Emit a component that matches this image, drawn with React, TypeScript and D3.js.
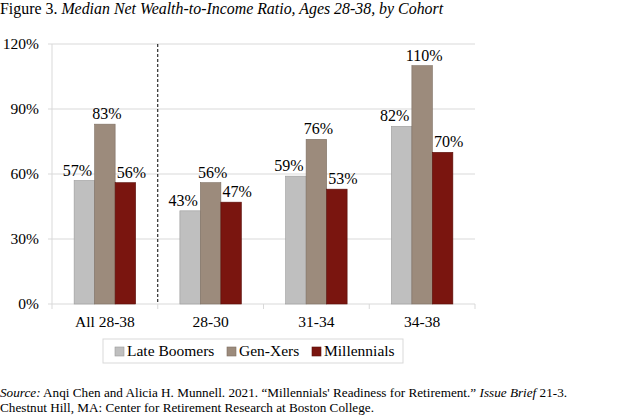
import * as d3 from 'd3';

const categories = ['All 28-38', '28-30', '31-34', '34-38'];
const seriesNames = ['Late Boomers', 'Gen-Xers', 'Millennials'];
const lateBoomers = [57, 43, 59, 82];
const genXers = [83, 56, 76, 110];
const millennials = [56, 47, 53, 70];
const yTicks = [0, 30, 60, 90, 120];

const colors = ['#BFBFBF', '#9C8B7C', '#7A150F'];
const strokes = ['#9a9a9a', '#7d6e61', '#5a0e09'];
// small horizontal nudges so the value labels don't collide
const labelNudge = [-7, 2, 6];

const W = 620;
const H = 418;
const margin = { top: 44, right: 145, bottom: 114, left: 52 };
const innerW = W - margin.left - margin.right;
const innerH = H - margin.top - margin.bottom;
const serif = "'Liberation Serif', Tinos, 'Times New Roman', Times, 'DejaVu Serif', serif";

export default function App() {
  const values = [lateBoomers, genXers, millennials];

  const x = d3.scaleBand().domain(categories).range([0, innerW]).padding(0);
  const xs = d3
    .scaleBand()
    .domain(seriesNames)
    .range([0, x.bandwidth()])
    .paddingInner(0)
    .paddingOuter(1.08);
  const y = d3.scaleLinear().domain([0, 120]).range([innerH, 0]);

  const legendItems = [
    { name: seriesNames[0], dx: 12 },
    { name: seriesNames[1], dx: 124 },
    { name: seriesNames[2], dx: 209 },
  ];

  return (
    <svg
      width={W}
      height={H}
      style={{ position: 'absolute', left: 0, top: 0, background: '#fff', fontFamily: serif }}
    >
      <text x={0} y={14} fontSize={15.9} fill="#000">
        Figure 3.{' '}
        <tspan fontStyle="italic">Median Net Wealth-to-Income Ratio, Ages 28-38, by Cohort</tspan>
      </text>

      <g transform={`translate(${margin.left},${margin.top})`}>
        {/* gridlines + y labels */}
        {yTicks.map((t) => (
          <g key={t}>
            <line x1={-4} x2={innerW} y1={y(t)} y2={y(t)} stroke="#d9d9d9" strokeWidth={1} />
            <text x={-13} y={y(t)} dy="0.35em" textAnchor="end" fontSize={15.5} fill="#000">
              {`${t}%`}
            </text>
          </g>
        ))}
        <line x1={0} x2={0} y1={0} y2={innerH} stroke="#d9d9d9" />

        {/* category ticks */}
        {categories.map((c) => (
          <line
            key={`tk-${c}`}
            x1={(x(c) ?? 0) + x.bandwidth()}
            x2={(x(c) ?? 0) + x.bandwidth()}
            y1={innerH}
            y2={innerH + 5}
            stroke="#d9d9d9"
          />
        ))}
        <line x1={0} x2={0} y1={innerH} y2={innerH + 5} stroke="#d9d9d9" />

        {/* separator after the pooled group */}
        <line
          x1={x(categories[1]) ?? 0}
          x2={x(categories[1]) ?? 0}
          y1={0}
          y2={innerH}
          stroke="#000"
          strokeWidth={1}
          strokeDasharray="3 2"
        />

        {/* bars */}
        {categories.map((c, ci) => (
          <g key={c} transform={`translate(${x(c)},0)`}>
            {seriesNames.map((s, si) => {
              const v = values[si][ci];
              const bx = xs(s) ?? 0;
              return (
                <g key={s}>
                  <rect
                    x={bx}
                    y={y(v)}
                    width={xs.bandwidth()}
                    height={innerH - y(v)}
                    fill={colors[si]}
                    stroke={strokes[si]}
                    strokeWidth={0.6}
                  />
                  <text
                    x={bx + xs.bandwidth() / 2 + labelNudge[si]}
                    y={y(v) - 5}
                    textAnchor="middle"
                    fontSize={16}
                    fill="#000"
                  >
                    {`${v}%`}
                  </text>
                </g>
              );
            })}
            <text x={x.bandwidth() / 2} y={innerH + 23} textAnchor="middle" fontSize={15.5} fill="#000">
              {c}
            </text>
          </g>
        ))}
      </g>

      {/* legend */}
      <g transform="translate(103,339)">
        <rect x={0} y={0} width={300} height={24} fill="#fff" stroke="#d9d9d9" />
        {legendItems.map((it, i) => (
          <g key={it.name} transform={`translate(${it.dx},0)`}>
            <rect x={0} y={8} width={9} height={9} fill={colors[i]} stroke={strokes[i]} strokeWidth={0.6} />
            <text x={12} y={17} fontSize={15.5} fill="#000">
              {it.name}
            </text>
          </g>
        ))}
      </g>

      <text x={0} y={397} fontSize={13.2} fill="#000">
        <tspan fontStyle="italic">Source:</tspan> Anqi Chen and Alicia H. Munnell. 2021. “Millennials' Readiness for
        Retirement.” <tspan fontStyle="italic">Issue Brief</tspan> 21-3.
      </text>
      <text x={0} y={412} fontSize={13.2} fill="#000">
        Chestnut Hill, MA: Center for Retirement Research at Boston College.
      </text>
    </svg>
  );
}
